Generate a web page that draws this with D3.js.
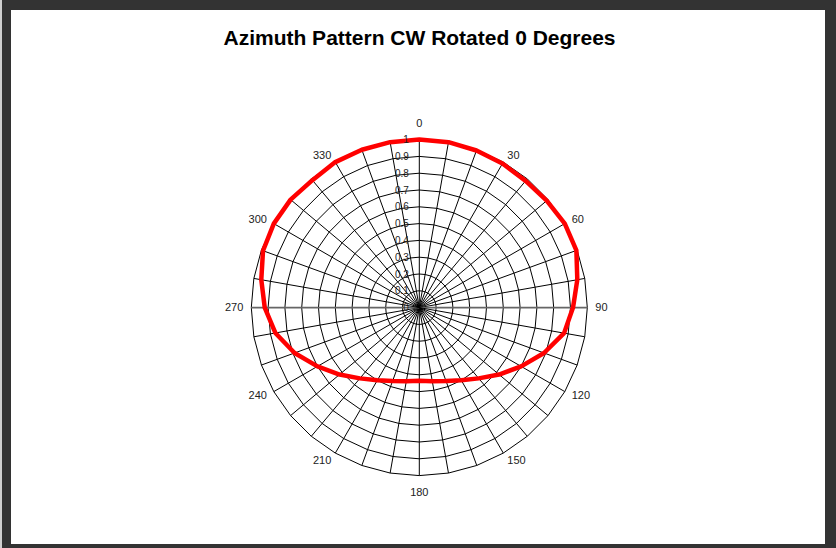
<!DOCTYPE html>
<html>
<head>
<meta charset="utf-8">
<script src="https://cdn.jsdelivr.net/npm/d3@7"></script>
<style>
  html, body { margin: 0; padding: 0; background: #fff; }
  svg { display: block; }
  text { font-family: "Liberation Sans", Arial, sans-serif; }
</style>
</head>
<body>
<svg id="chart" width="836" height="548"></svg>
<script>
// ---- data ----
const titleText = "Azimuth Pattern CW Rotated 0 Degrees";
const azimuths = [0,10,20,30,40,50,60,70,80,90,100,110,120,130,140,150,160,170,
                  180,190,200,210,220,230,240,250,260,270,280,290,300,310,320,330,340,350];
const gains = [1.0,1.0,0.995,0.99,0.985,0.99,1.0,0.995,0.955,0.915,0.875,0.79,0.70,0.62,0.55,0.50,0.465,0.445,
               0.435,0.445,0.465,0.50,0.55,0.62,0.70,0.79,0.87,0.92,0.955,0.99,1.0,1.0,0.99,1.0,1.0,1.0];
const angleTicks = [0,30,60,90,120,150,180,210,240,270,300,330];
const angleTickLabels = ["0","30","60","90","120","150","180","210","240","270","300","330"];
const radialTicks = [0,0.1,0.2,0.3,0.4,0.5,0.6,0.7,0.8,0.9,1];
const radialTickLabels = ["0","0.1","0.2","0.3","0.4","0.5","0.6","0.7","0.8","0.9","1"];

// ---- layout ----
const W = 836, H = 548;
const cx = 419.3, cy = 307.6, R = 168;

const svg = d3.select("#chart");

// frame
svg.append("rect").attr("x",0).attr("y",0).attr("width",W).attr("height",H).attr("fill","#333333");
svg.append("rect").attr("x",0).attr("y",0).attr("width",2).attr("height",H).attr("fill","#cfcfcf");
svg.append("rect").attr("x",11).attr("y",10).attr("width",814).attr("height",534).attr("fill","#ffffff");

// title
svg.append("text").attr("x",419.5).attr("y",45)
  .attr("text-anchor","middle").attr("font-size",21).attr("font-weight","bold")
  .attr("fill","#000").text(titleText);

const r = d3.scaleLinear().domain([0,1]).range([0,R]);
const a = d3.scaleLinear().domain([0,360]).range([0,2*Math.PI]);

const g = svg.append("g").attr("transform",`translate(${cx},${cy})`);

const radial = d3.lineRadial()
  .angle(d => a(d[0])).radius(d => r(d[1])).curve(d3.curveLinearClosed);

// polygonal grid rings
g.selectAll("path.ring").data(radialTicks.filter(v => v > 0)).enter()
  .append("path").attr("class","ring")
  .attr("d", v => radial(azimuths.map(az => [az, v])))
  .attr("fill","none").attr("stroke","#000").attr("stroke-width",1);

// spokes
g.selectAll("line.spoke").data(azimuths).enter()
  .append("line").attr("class","spoke")
  .attr("x1",0).attr("y1",0)
  .attr("x2", d => r(1)*Math.sin(a(d)))
  .attr("y2", d => -r(1)*Math.cos(a(d)))
  .attr("stroke", d => (d === 90 || d === 270) ? "#666" : "#000")
  .attr("stroke-width", d => (d === 90 || d === 270) ? 1.6 : 1);

// data
g.append("path")
  .attr("d", radial(azimuths.map((az,i) => [az, gains[i]])))
  .attr("fill","none").attr("stroke","#ff0000").attr("stroke-width",4.5)
  .attr("stroke-linejoin","round");

// radial tick labels
g.selectAll("text.rt").data(radialTicks).enter()
  .append("text").attr("class","rt")
  .attr("x",-10.5).attr("y", d => -r(d))
  .attr("dy","0.35em").attr("text-anchor","end")
  .attr("font-size",10).attr("fill","#222")
  .text((d,i) => radialTickLabels[i]);

// angle labels (box placed just outside the outer ring)
const labR = r(1) + 8;
g.selectAll("text.at").data(angleTicks).enter()
  .append("text").attr("class","at")
  .attr("dy","0.35em").attr("text-anchor","middle")
  .attr("font-size",11).attr("fill","#222")
  .text((d,i) => angleTickLabels[i])
  .each(function(d) {
    const s = Math.sin(a(d)), c = Math.cos(a(d));
    const w = this.getComputedTextLength();
    let x = labR * s, y = -labR * c;
    if (Math.abs(s) > 0.01) x += Math.sign(s) * w / 2;
    else y += -Math.sign(c) * 8.5;
    d3.select(this).attr("x", x).attr("y", y);
  });
</script>
</body>
</html>
